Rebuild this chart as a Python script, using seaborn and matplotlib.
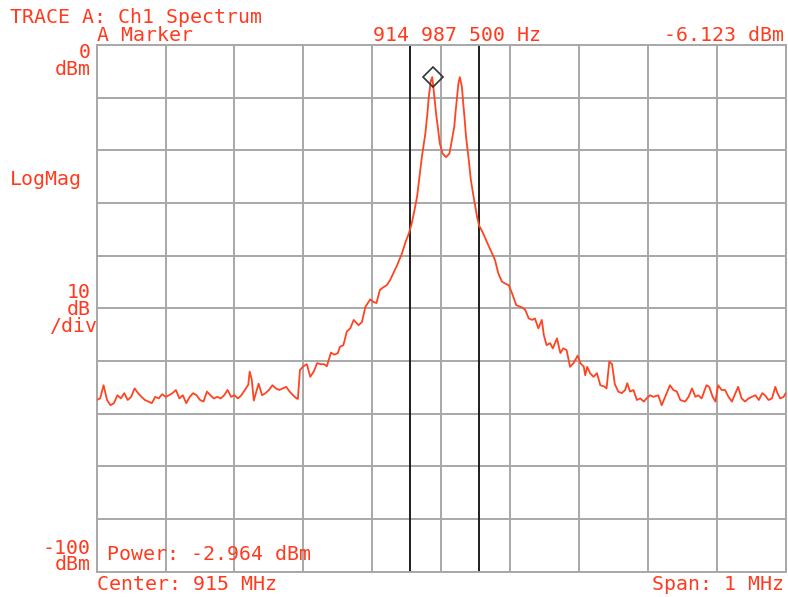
import matplotlib
matplotlib.use("Agg")
import matplotlib.pyplot as plt
import seaborn as sns
import pandas as pd

# ---- data (offset from 915 MHz center, in kHz ; level in dBm) ----
offset_khz = [
    -500, -495, -490, -485, -480, -475, -470, -465, -460, -455, -450, -445, -440, -435, -430,
    -425, -420, -415, -410, -405, -400, -395, -390, -385, -380, -375, -370, -365, -360, -355,
    -350, -345, -340, -335, -330, -325, -320, -315, -310, -305, -300, -295, -290, -285, -280,
    -278, -275, -272, -265, -260, -255, -250, -245, -240, -235, -230, -225, -220, -215, -210,
    -208, -205, -200, -195, -190, -185, -180, -175, -170, -166, -160, -155, -150, -147, -142,
    -137, -132, -127, -120, -115, -110, -103, -98, -94, -89, -84, -79, -74, -69, -64,
    -57, -52, -47, -43, -39, -35, -31, -28, -23, -20, -18, -15, -13, -11, -9,
    -7, -5, -2, 2, 7, 12, 15, 19, 21, 23, 25, 27, 30, 32, 34,
    36, 40, 43, 47, 52, 55, 60, 64, 69, 74, 78, 83, 88, 93, 98,
    103, 109, 113, 117, 122, 127, 132, 136, 141, 146, 149, 153, 158, 162, 168,
    173, 177, 182, 187, 192, 198, 202, 207, 209, 212, 216, 221, 226, 231, 236,
    240, 244, 248, 252, 257, 262, 267, 270, 274, 279, 284, 289, 294, 298, 303,
    308, 315, 320, 325, 332, 337, 342, 347, 354, 359, 364, 369, 373, 378, 385,
    389, 394, 398, 402, 407, 412, 417, 422, 427, 431, 436, 441, 446, 451, 456,
    461, 466, 470, 475, 480, 485, 488, 492, 497, 500,
]
level_dbm = [
    -67.4, -67.1, -64.6, -67.4, -68.4, -68.0, -66.5, -67.1, -66.1, -67.4, -66.8, -65.2, -66.1, -66.8, -67.4,
    -67.7, -68.0, -66.8, -67.1, -66.3, -66.8, -66.5, -66.1, -65.5, -67.1, -66.5, -68.0, -66.8, -66.1, -66.5,
    -67.4, -67.7, -65.8, -66.5, -67.1, -66.8, -67.1, -66.5, -65.5, -66.8, -66.5, -67.1, -66.5, -65.5, -64.5,
    -62.0, -63.5, -67.5, -64.3, -66.5, -66.1, -65.5, -64.6, -65.2, -65.5, -65.2, -64.9, -65.8, -66.5, -67.1,
    -67.2, -61.7, -61.0, -60.6, -63.0, -62.0, -60.4, -60.6, -60.6, -61.0, -58.4, -58.8, -58.5, -57.3, -57.0,
    -54.4, -53.8, -52.2, -53.2, -52.6, -49.7, -48.3, -48.8, -49.0, -46.5, -46.0, -45.6, -44.6, -43.2, -41.8,
    -39.6, -37.5, -35.8, -34.0, -31.5, -28.8, -24.5, -21.2, -16.8, -13.0, -9.8, -6.8, -6.1, -8.5, -11.1,
    -13.5, -15.5, -18.7, -20.6, -21.3, -20.6, -18.4, -15.5, -12.5, -9.8, -7.3, -6.1, -7.9, -11.1, -14.0,
    -17.4, -21.8, -25.6, -28.8, -32.6, -34.3, -35.5, -36.7, -38.2, -39.6, -40.8, -43.4, -44.9, -45.3, -45.6,
    -47.2, -49.4, -49.6, -49.8, -50.3, -51.9, -52.2, -51.9, -53.8, -52.2, -55.1, -57.0, -56.6, -57.6, -55.7,
    -58.5, -57.6, -57.9, -61.1, -60.4, -59.0, -60.4, -61.1, -62.7, -61.1, -62.3, -63.0, -62.3, -64.6, -64.8,
    -65.2, -60.1, -60.6, -64.4, -65.8, -66.1, -65.5, -64.2, -65.8, -65.5, -67.4, -67.1, -67.7, -67.1, -66.5,
    -66.8, -66.5, -68.4, -66.8, -64.6, -65.5, -65.8, -67.4, -67.7, -66.8, -65.2, -66.8, -66.5, -67.1, -64.6,
    -64.9, -66.8, -67.7, -64.6, -65.5, -65.5, -66.8, -67.7, -66.1, -64.9, -67.1, -67.7, -67.1, -66.8, -66.5,
    -67.4, -66.1, -66.5, -67.4, -67.1, -64.9, -66.1, -67.1, -66.8, -66.1,
]
marker_khz = [-12.5]
marker_dbm = [-6.123]
band_lines_khz = [-45, 55]
x_grid = list(range(-500, 501, 100))
y_grid = list(range(-100, 1, 10))

df = pd.DataFrame({"offset_khz": offset_khz, "level_dbm": level_dbm})

TRACE = "#ff4422"
TEXT = "#ff3b1f"
GRID = "#a8a8a8"

sns.set_style("white")
plt.rcParams["font.family"] = ["DejaVu Sans Mono", "DejaVu Sans"]

W, H = 788, 597
fig = plt.figure(figsize=(W / 100, H / 100), dpi=100)
fig.patch.set_facecolor("white")
L, R, T, B = 96.7, 785.7, 45.0, 571.7
ax = fig.add_axes([L / W, 1 - B / H, (R - L) / W, (B - T) / H])

sns.lineplot(data=df, x="offset_khz", y="level_dbm", ax=ax, color=TRACE,
             linewidth=1.3, estimator=None, sort=False, zorder=3)
for xv in band_lines_khz:
    ax.axvline(xv, color="#1e1e1e", linewidth=1.4, zorder=2)
ax.plot(marker_khz, marker_dbm, marker="D", ms=10.5, mfc="none", mec="#333333",
        mew=1.2, linestyle="none", zorder=4, clip_on=False)

ax.set_xlim(-500, 500)
ax.set_ylim(-100, 0)
ax.set_xticks(x_grid)
ax.set_yticks(y_grid)
ax.tick_params(length=0, labelbottom=False, labelleft=False)
ax.set_xlabel("")
ax.set_ylabel("")
ax.grid(True, color=GRID, linewidth=1.4, zorder=1)
for s in ax.spines.values():
    s.set_color(GRID)
    s.set_linewidth(1.4)


def txt(x, y, s, ha="left", ls=1.2):
    fig.text(x / W, 1 - y / H, s, ha=ha, va="baseline", color=TEXT,
             fontsize=14.3, linespacing=ls)


txt(10, 23, "TRACE A: Ch1 Spectrum")
txt(97, 41, "A Marker")
txt(373, 41, "914 987 500 Hz")
txt(784, 41, "-6.123 dBm", ha="right")
txt(91, 75, "0\ndBm", ha="right", ls=0.85)
txt(10, 185, "LogMag")
txt(91, 315, "10\ndB", ha="right", ls=0.9)
txt(97, 332, "/div", ha="right")
txt(91, 570, "-100\ndBm", ha="right", ls=0.8)
txt(107, 560, "Power: -2.964 dBm")
txt(97, 590, "Center: 915 MHz")
txt(784, 590, "Span: 1 MHz", ha="right")

fig.savefig("out.png", dpi=100, facecolor="white")
